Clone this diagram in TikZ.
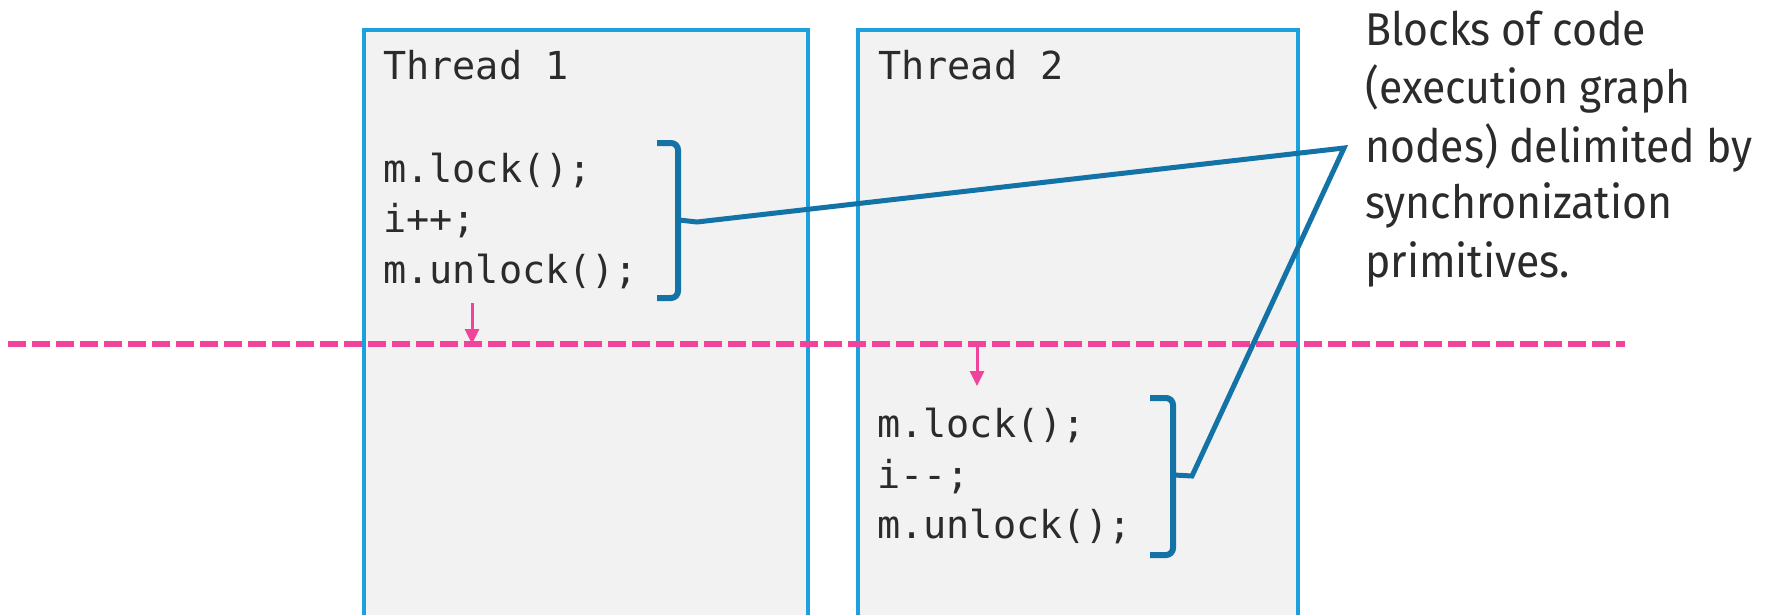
\documentclass[tikz,border=0pt]{standalone}
\usepackage{fontspec}
\setmonofont{DejaVu Sans Mono}
\newfontfamily\labelfont{Fira Sans}[FakeStretch=0.93]
\usetikzlibrary{arrows.meta}
\definecolor{boxfill}{HTML}{F2F2F2}
\definecolor{boxline}{HTML}{1CA0DE}
\definecolor{bracecol}{HTML}{1373A6}
\definecolor{syncpink}{HTML}{F0449A}
\definecolor{txt}{HTML}{2B2B2B}
\begin{document}
\begin{tikzpicture}[x=1pt,y=-1pt,
 threadbox/.style={draw=boxline,fill=boxfill,line width=3.5pt,anchor=north west,inner sep=0pt},
 code/.style={font=\ttfamily\fontsize{38.5}{51}\selectfont,text=txt,inner sep=0pt,anchor=base west},
 bracepath/.style={draw=bracecol,line width=6pt},
 link/.style={draw=bracecol,line width=5pt,line join=miter},
 syncline/.style={draw=syncpink,line width=5.5pt,dash pattern=on 18pt off 6pt},
 syncarrow/.style={draw=syncpink,line width=3pt,-{Triangle[length=15pt,width=14pt]}},
 note/.style={font=\labelfont\fontsize{46}{58}\selectfont,text=txt,inner sep=0pt,anchor=base west}]
\useasboundingbox (0,0) rectangle (1772,614);
\clip (0,0) rectangle (1772,614);
% thread boxes
\node[threadbox,minimum width=444pt,minimum height=620pt] (t1) at (362,28) {};
\node[threadbox,minimum width=440pt,minimum height=620pt] (t2) at (856,28) {};
% thread 1 text
\node[code] (title1) at (383,79) {Thread 1};
\node[code] (lock1) at (383,182) {m.lock();};
\node[code] (inc1) at (383,232) {i++;};
\node[code] (unlock1) at (383,283) {m.unlock();};
% thread 2 text
\node[code] (title2) at (878,79) {Thread 2};
\node[code] (lock2) at (877,437) {m.lock();};
\node[code] (dec2) at (877,488) {i--;};
\node[code] (unlock2) at (877,538) {m.unlock();};
% synchronization line and arrows
\coordinate (syncL) at (8,344);
\coordinate (syncR) at (1625,344);
\draw[syncline] (syncL) -- (syncR);
\coordinate (a1s) at (472,303);
\coordinate (a1e) at (472,344);
\coordinate (a2s) at (977,344);
\coordinate (a2e) at (977,386);
\draw[syncarrow] (a1s) -- (a1e);
\draw[syncarrow] (a2s) -- (a2e);
% braces
\coordinate (b1tip) at (679,220);
\coordinate (b2tip) at (1174,475);
\draw[bracepath] (657,143) -- (671,143) to[out=0,in=90] (678,150) -- (678,291) to[out=-90,in=0] (671,298) -- (657,298);
\draw[bracepath] (1150,398) -- (1166,398) to[out=0,in=90] (1173,405) -- (1173,548) to[out=-90,in=0] (1166,555) -- (1150,555);
% connector
\coordinate (knee) at (1344,148);
\draw[link] (b1tip) -- (697,222) -- (knee) -- (1192,476) -- (b2tip);
% note text
\node[note] (n1) at (1365,45) {Blocks of code};
\node[note] (n2) at (1365,103) {(execution graph};
\node[note] (n3) at (1365,162) {nodes) delimited by};
\node[note] (n4) at (1365,218) {synchronization};
\node[note] (n5) at (1365,277) {primitives.};
\end{tikzpicture}
\end{document}
